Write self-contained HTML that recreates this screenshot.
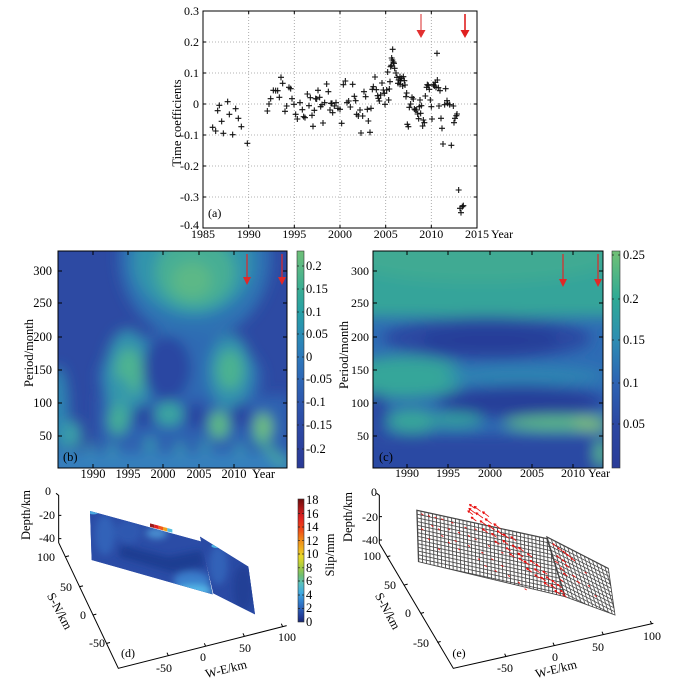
<!DOCTYPE html>
<html><head><meta charset="utf-8">
<style>
html,body{margin:0;padding:0;background:#fff;}
svg{display:block;}
svg text{font-family:"Liberation Serif","DejaVu Serif",serif;fill:#000;}
</style></head><body>
<svg width="684" height="689" viewBox="0 0 684 689" xmlns="http://www.w3.org/2000/svg" font-family="'Liberation Serif', 'DejaVu Serif', serif">
<defs>
 <path id="pp" d="M-9,0H9M0,-9V9" stroke="#111" stroke-width="3.2" fill="none"/>
 <clipPath id="cb"><rect x="58" y="251" width="229" height="217"/></clipPath>
 <clipPath id="cc"><rect x="373" y="251" width="230" height="217"/></clipPath>
 <filter id="bl" filterUnits="userSpaceOnUse" x="0" y="180" width="684" height="340"><feGaussianBlur stdDeviation="6.5"/></filter>
 <filter id="bl2" filterUnits="userSpaceOnUse" x="0" y="180" width="684" height="340"><feGaussianBlur stdDeviation="7"/></filter>
 <filter id="bld" filterUnits="userSpaceOnUse" x="-100" y="-100" width="800" height="600"><feGaussianBlur stdDeviation="10"/></filter>
 <clipPath id="dL"><polygon points="15,48 350,140 383,298 20,195"/></clipPath>
 <clipPath id="dR"><polygon points="345,125 490,215 510,358 385,295"/></clipPath>
 <linearGradient id="gb" x1="0" y1="0" x2="0" y2="1">
  <stop offset="0" stop-color="#6dbf77"/>
  <stop offset="0.07" stop-color="#5cb984"/>
  <stop offset="0.175" stop-color="#3aad93"/>
  <stop offset="0.28" stop-color="#27a0a5"/>
  <stop offset="0.385" stop-color="#2a8cb5"/>
  <stop offset="0.49" stop-color="#2d78bb"/>
  <stop offset="0.595" stop-color="#2d66b5"/>
  <stop offset="0.70" stop-color="#2d56ad"/>
  <stop offset="0.80" stop-color="#2c4aa5"/>
  <stop offset="0.91" stop-color="#2b409c"/>
  <stop offset="1" stop-color="#2a3a96"/>
 </linearGradient>
 <linearGradient id="gc" x1="0" y1="0" x2="0" y2="1">
  <stop offset="0" stop-color="#70c076"/>
  <stop offset="0.02" stop-color="#6cbf78"/>
  <stop offset="0.22" stop-color="#2eaa95"/>
  <stop offset="0.41" stop-color="#2d8db3"/>
  <stop offset="0.61" stop-color="#2d62b3"/>
  <stop offset="0.80" stop-color="#2b47a2"/>
  <stop offset="1" stop-color="#2a3c98"/>
 </linearGradient>
 <linearGradient id="gd" x1="0" y1="0" x2="0" y2="1">
  <stop offset="0" stop-color="#6e0c0c"/>
  <stop offset="0.08" stop-color="#b01818"/>
  <stop offset="0.15" stop-color="#e02020"/>
  <stop offset="0.25" stop-color="#f04a18"/>
  <stop offset="0.33" stop-color="#f08818"/>
  <stop offset="0.40" stop-color="#f0b020"/>
  <stop offset="0.47" stop-color="#e8d828"/>
  <stop offset="0.55" stop-color="#a8cc40"/>
  <stop offset="0.62" stop-color="#70bf70"/>
  <stop offset="0.69" stop-color="#58c0c0"/>
  <stop offset="0.76" stop-color="#40aae0"/>
  <stop offset="0.83" stop-color="#3282d0"/>
  <stop offset="0.90" stop-color="#2a5ab2"/>
  <stop offset="0.96" stop-color="#213a96"/>
  <stop offset="1" stop-color="#1a2870"/>
 </linearGradient>
 <pattern id="gridL" patternUnits="userSpaceOnUse" width="10" height="10" patternTransform="matrix(1.147,0.25,0.0357,1.107,20,30)">
  <rect width="10" height="10" fill="#fff"/>
  <rect width="10" height="2.4" fill="#4a4a4a"/>
  <rect width="2.4" height="10" fill="#4a4a4a"/>
 </pattern>
 <pattern id="gridR" patternUnits="userSpaceOnUse" width="10" height="10" patternTransform="matrix(1.233,0.633,0.393,1.286,410,110)">
  <rect width="10" height="10" fill="#fff"/>
  <rect width="10" height="2.4" fill="#4a4a4a"/>
  <rect width="2.4" height="10" fill="#4a4a4a"/>
 </pattern>
</defs>
<rect width="684" height="689" fill="#fff"/>

<!-- ================= Panel (a) ================= -->
<g stroke="#9a9a9a" stroke-width="0.8" stroke-dasharray="1,2" fill="none">
 <path d="M248.7,11V228M294.3,11V228M340,11V228M385.7,11V228M431.3,11V228"/>
 <path d="M203,42H477M203,73H477M203,104H477M203,135H477M203,166H477M203,197H477"/>
</g>
<rect x="203" y="11" width="274" height="217" fill="none" stroke="#000" stroke-width="1"/>
<g stroke="#000" stroke-width="1">
 <path d="M248.7,228v-3M294.3,228v-3M340,228v-3M385.7,228v-3M431.3,228v-3M248.7,11v3M294.3,11v3M340,11v3M385.7,11v3M431.3,11v3"/>
 <path d="M203,42h3M203,73h3M203,104h3M203,135h3M203,166h3M203,197h3M477,42h-3M477,73h-3M477,104h-3M477,135h-3M477,166h-3M477,197h-3"/>
</g>
<g font-size="12" text-anchor="end">
 <text x="199" y="15">0.3</text>
 <text x="199" y="46">0.2</text>
 <text x="199" y="77">0.1</text>
 <text x="199" y="108">0</text>
 <text x="199" y="139">-0.1</text>
 <text x="199" y="170">-0.2</text>
 <text x="199" y="201">-0.3</text>
 <text x="199" y="229">-0.4</text>
</g>
<g font-size="12" text-anchor="middle">
 <text x="203" y="238">1985</text>
 <text x="248.7" y="238">1990</text>
 <text x="294.3" y="238">1995</text>
 <text x="340" y="238">2000</text>
 <text x="385.7" y="238">2005</text>
 <text x="431.3" y="238">2010</text>
 <text x="477" y="238">2015</text>
</g>
<text x="491" y="238" font-size="12">Year</text>
<text transform="translate(181,123) rotate(-90)" font-size="12.5" text-anchor="middle">Time coefficients</text>
<text x="208" y="217" font-size="12">(a)</text>
<!-- arrows a -->
<line x1="421" y1="14" x2="421" y2="31" stroke="#e87a7a" stroke-width="1.6"/>
<polygon points="416.5,30 425.5,30 421,38" fill="#e23030"/>
<line x1="465" y1="14" x2="465" y2="31" stroke="#e02020" stroke-width="1.6"/>
<polygon points="460.5,30 469.5,30 465,38" fill="#e02020"/>
<!-- points -->
<g transform="translate(150,0) scale(0.33333)">
<use href="#pp" x="188" y="382"/><use href="#pp" x="197" y="393"/><use href="#pp" x="208" y="316"/><use href="#pp" x="203" y="332"/><use href="#pp" x="215" y="364"/><use href="#pp" x="220" y="400"/><use href="#pp" x="233" y="305"/><use href="#pp" x="238" y="343"/><use href="#pp" x="248" y="404"/><use href="#pp" x="257" y="326"/><use href="#pp" x="265" y="355"/><use href="#pp" x="274" y="380"/><use href="#pp" x="292" y="430"/>
<use href="#pp" x="352" y="333"/><use href="#pp" x="357" y="312"/><use href="#pp" x="362" y="296"/><use href="#pp" x="370" y="271"/><use href="#pp" x="377" y="272"/><use href="#pp" x="383" y="272"/><use href="#pp" x="388" y="292"/><use href="#pp" x="393" y="232"/><use href="#pp" x="398" y="250"/><use href="#pp" x="405" y="334"/><use href="#pp" x="410" y="318"/><use href="#pp" x="417" y="262"/><use href="#pp" x="422" y="266"/><use href="#pp" x="426" y="296"/><use href="#pp" x="432" y="313"/><use href="#pp" x="437" y="343"/><use href="#pp" x="442" y="357"/><use href="#pp" x="450" y="308"/><use href="#pp" x="457" y="329"/><use href="#pp" x="461" y="350"/><use href="#pp" x="465" y="353"/><use href="#pp" x="472" y="282"/><use href="#pp" x="477" y="317"/><use href="#pp" x="481" y="293"/><use href="#pp" x="486" y="346"/><use href="#pp" x="489" y="379"/><use href="#pp" x="493" y="331"/><use href="#pp" x="497" y="296"/><use href="#pp" x="500" y="297"/><use href="#pp" x="504" y="271"/><use href="#pp" x="509" y="292"/><use href="#pp" x="512" y="320"/><use href="#pp" x="516" y="314"/><use href="#pp" x="519" y="369"/><use href="#pp" x="524" y="308"/><use href="#pp" x="530" y="252"/><use href="#pp" x="535" y="275"/><use href="#pp" x="540" y="330"/><use href="#pp" x="543" y="310"/><use href="#pp" x="546" y="310"/><use href="#pp" x="548" y="338"/><use href="#pp" x="553" y="318"/><use href="#pp" x="558" y="308"/><use href="#pp" x="564" y="325"/><use href="#pp" x="570" y="328"/><use href="#pp" x="575" y="370"/><use href="#pp" x="580" y="254"/><use href="#pp" x="586" y="243"/><use href="#pp" x="591" y="308"/><use href="#pp" x="596" y="303"/><use href="#pp" x="601" y="321"/><use href="#pp" x="608" y="253"/><use href="#pp" x="613" y="289"/><use href="#pp" x="617" y="302"/><use href="#pp" x="620" y="343"/><use href="#pp" x="625" y="348"/><use href="#pp" x="630" y="330"/><use href="#pp" x="633" y="399"/><use href="#pp" x="638" y="348"/><use href="#pp" x="642" y="275"/><use href="#pp" x="647" y="290"/><use href="#pp" x="652" y="328"/><use href="#pp" x="655" y="363"/><use href="#pp" x="660" y="397"/><use href="#pp" x="663" y="325"/><use href="#pp" x="667" y="268"/><use href="#pp" x="670" y="260"/><use href="#pp" x="675" y="231"/><use href="#pp" x="679" y="269"/><use href="#pp" x="683" y="287"/><use href="#pp" x="685" y="295"/><use href="#pp" x="688" y="303"/><use href="#pp" x="692" y="285"/><use href="#pp" x="696" y="249"/><use href="#pp" x="700" y="270"/><use href="#pp" x="703" y="280"/><use href="#pp" x="705" y="313"/><use href="#pp" x="710" y="270"/><use href="#pp" x="713" y="216"/><use href="#pp" x="716" y="300"/><use href="#pp" x="718" y="267"/><use href="#pp" x="720" y="245"/><use href="#pp" x="727" y="180"/><use href="#pp" x="722" y="200"/><use href="#pp" x="730" y="186"/><use href="#pp" x="725" y="174"/><use href="#pp" x="732" y="190"/><use href="#pp" x="724" y="196"/><use href="#pp" x="728" y="148"/><use href="#pp" x="734" y="205"/><use href="#pp" x="738" y="219"/><use href="#pp" x="741" y="232"/><use href="#pp" x="744" y="250"/><use href="#pp" x="746" y="240"/><use href="#pp" x="750" y="253"/><use href="#pp" x="752" y="242"/><use href="#pp" x="755" y="235"/><use href="#pp" x="750" y="230"/><use href="#pp" x="758" y="258"/><use href="#pp" x="760" y="230"/><use href="#pp" x="763" y="242"/><use href="#pp" x="765" y="255"/><use href="#pp" x="768" y="290"/><use href="#pp" x="770" y="279"/><use href="#pp" x="772" y="373"/><use href="#pp" x="775" y="380"/><use href="#pp" x="778" y="322"/><use href="#pp" x="782" y="312"/><use href="#pp" x="786" y="292"/><use href="#pp" x="790" y="297"/><use href="#pp" x="793" y="327"/><use href="#pp" x="796" y="330"/><use href="#pp" x="800" y="330"/><use href="#pp" x="803" y="342"/><use href="#pp" x="806" y="356"/><use href="#pp" x="808" y="320"/><use href="#pp" x="810" y="300"/><use href="#pp" x="812" y="340"/><use href="#pp" x="814" y="317"/><use href="#pp" x="818" y="378"/><use href="#pp" x="820" y="360"/><use href="#pp" x="823" y="368"/><use href="#pp" x="826" y="288"/><use href="#pp" x="830" y="262"/><use href="#pp" x="832" y="254"/><use href="#pp" x="835" y="256"/><use href="#pp" x="838" y="268"/><use href="#pp" x="841" y="300"/><use href="#pp" x="844" y="320"/><use href="#pp" x="846" y="357"/><use href="#pp" x="850" y="254"/><use href="#pp" x="853" y="258"/><use href="#pp" x="856" y="247"/><use href="#pp" x="858" y="262"/><use href="#pp" x="861" y="160"/><use href="#pp" x="862" y="240"/><use href="#pp" x="865" y="263"/><use href="#pp" x="867" y="318"/><use href="#pp" x="870" y="272"/><use href="#pp" x="873" y="355"/><use href="#pp" x="876" y="385"/><use href="#pp" x="879" y="432"/><use href="#pp" x="884" y="314"/><use href="#pp" x="887" y="266"/><use href="#pp" x="891" y="302"/><use href="#pp" x="893" y="310"/><use href="#pp" x="899" y="314"/><use href="#pp" x="904" y="436"/><use href="#pp" x="910" y="318"/><use href="#pp" x="912" y="368"/><use href="#pp" x="915" y="355"/><use href="#pp" x="919" y="347"/><use href="#pp" x="921" y="342"/><use href="#pp" x="926" y="570"/><use href="#pp" x="933" y="638"/><use href="#pp" x="937" y="620"/><use href="#pp" x="940" y="617"/><use href="#pp" x="930" y="625"/>
</g>

<!-- ================= Panel (b) ================= -->
<g clip-path="url(#cb)">
 <rect x="58" y="251" width="229" height="217" fill="#2d4aa3"/>
 <g filter="url(#bl)">
  <ellipse cx="195" cy="258" rx="76" ry="82" fill="#2e72b3"/>
  <ellipse cx="193" cy="262" rx="60" ry="54" fill="#3094ac"/>
  <ellipse cx="195" cy="272" rx="40" ry="36" fill="#46ae94"/>
  <ellipse cx="192" cy="280" rx="20" ry="18" fill="#5cb887"/>
  <ellipse cx="180" cy="378" rx="82" ry="46" fill="#2e6ab3"/>
  <rect x="98" y="395" width="192" height="55" fill="#2e62b1"/>
  <ellipse cx="128" cy="375" rx="24" ry="46" fill="#3190ae"/>
  <ellipse cx="129" cy="372" rx="14" ry="24" fill="#4db391"/>
  <ellipse cx="230" cy="372" rx="22" ry="38" fill="#3190ae"/>
  <ellipse cx="230" cy="370" rx="13" ry="20" fill="#4cb290"/>
  <ellipse cx="167" cy="368" rx="24" ry="32" fill="#2c47a2"/>
  <ellipse cx="121" cy="402" rx="11" ry="25" fill="#3498aa"/>
  <ellipse cx="143" cy="416" rx="11" ry="11" fill="#2b45a1"/>
  <ellipse cx="196" cy="416" rx="11" ry="13" fill="#2b45a1"/>
  <ellipse cx="241" cy="416" rx="10" ry="13" fill="#2b45a1"/>
  <ellipse cx="118" cy="420" rx="10" ry="15" fill="#45ae96"/>
  <ellipse cx="169" cy="414" rx="14" ry="12" fill="#3aa6a0"/>
  <ellipse cx="219" cy="425" rx="10" ry="14" fill="#5fba84"/>
  <ellipse cx="263" cy="427" rx="9" ry="14" fill="#70bf7e"/>
  <ellipse cx="58" cy="410" rx="11" ry="44" fill="#2f86b2"/>
  <ellipse cx="72" cy="435" rx="10" ry="15" fill="#3a9ea8"/>
  <rect x="50" y="452" width="245" height="25" fill="#3580bd"/>
  <ellipse cx="90" cy="449" rx="4" ry="7" fill="#3a9eb0"/>
  <ellipse cx="112" cy="450" rx="4" ry="7" fill="#3a9eb0"/>
  <ellipse cx="150" cy="445" rx="5" ry="8" fill="#3a9eb0"/>
  <ellipse cx="180" cy="449" rx="4" ry="7" fill="#3a9eb0"/>
  <ellipse cx="205" cy="447" rx="4" ry="7" fill="#3a9eb0"/>
  <ellipse cx="240" cy="450" rx="4" ry="7" fill="#3a9eb0"/>
  <line x1="255" y1="435" x2="285" y2="466" stroke="#4fb590" stroke-width="6"/>
 </g>
</g>
<rect x="58" y="251" width="229" height="217" fill="none" stroke="#000" stroke-width="1"/>
<g stroke="#000" stroke-width="1">
 <path d="M58,271h4M58,303h4M58,337h4M58,370h4M58,403h4M58,436h4M287,271h-4M287,303h-4M287,337h-4M287,370h-4M287,403h-4M287,436h-4"/>
 <path d="M93,468v-4M128,468v-4M163,468v-4M199,468v-4M234,468v-4M93,251v4M128,251v4M163,251v4M199,251v4M234,251v4"/>
</g>
<g font-size="12.5" text-anchor="end">
 <text x="52" y="275">300</text>
 <text x="52" y="307">250</text>
 <text x="52" y="341">200</text>
 <text x="52" y="374">150</text>
 <text x="52" y="407">100</text>
 <text x="52" y="440">50</text>
</g>
<g font-size="12.5" text-anchor="middle">
 <text x="93" y="478">1990</text>
 <text x="128" y="478">1995</text>
 <text x="163" y="478">2000</text>
 <text x="199" y="478">2005</text>
 <text x="234" y="478">2010</text>
</g>
<text x="252" y="478" font-size="12.5">Year</text>
<text transform="translate(33,353) rotate(-90)" font-size="12.5" text-anchor="middle">Period/month</text>
<text x="63" y="461" font-size="12.5">(b)</text>
<line x1="247" y1="254" x2="247" y2="279" stroke="#e02828" stroke-width="1.2"/>
<polygon points="243,277 251,277 247,285" fill="#e02828"/>
<line x1="282" y1="254" x2="282" y2="279" stroke="#e02828" stroke-width="1.2"/>
<polygon points="278,277 286,277 282,285" fill="#e02828"/>
<!-- colorbar b -->
<rect x="297" y="251" width="7" height="217" fill="url(#gb)" stroke="#333" stroke-width="0.6"/>
<g stroke="#222" stroke-width="0.8">
 <path d="M297,266h2M297,289h2M297,312h2M297,334h2M297,357h2M297,379h2M297,402h2M297,425h2M297,449h2M304,266h-2M304,289h-2M304,312h-2M304,334h-2M304,357h-2M304,379h-2M304,402h-2M304,425h-2M304,449h-2"/>
</g>
<g font-size="12.5">
 <text x="306" y="270">0.2</text>
 <text x="306" y="293">0.15</text>
 <text x="306" y="316">0.1</text>
 <text x="306" y="338">0.05</text>
 <text x="306" y="361">0</text>
 <text x="306" y="383">-0.05</text>
 <text x="306" y="406">-0.1</text>
 <text x="306" y="429">-0.15</text>
 <text x="306" y="453">-0.2</text>
</g>

<!-- ================= Panel (c) ================= -->
<g clip-path="url(#cc)">
 <rect x="373" y="251" width="230" height="217" fill="#2e6cb4"/>
 <g filter="url(#bl2)">
  <rect x="355" y="225" width="270" height="92" fill="#34a49a"/>
  <ellipse cx="480" cy="258" rx="130" ry="24" fill="#40aa93"/>
  <ellipse cx="487" cy="338" rx="104" ry="22" fill="#2b48a2"/>
  <ellipse cx="490" cy="340" rx="70" ry="13" fill="#283e98"/>
  <ellipse cx="405" cy="377" rx="62" ry="21" fill="#36a69a"/>
  <ellipse cx="525" cy="376" rx="80" ry="10" fill="#2f85b2"/>
  <ellipse cx="522" cy="402" rx="88" ry="18" fill="#2b4ca4"/>
  <ellipse cx="522" cy="402" rx="76" ry="12" fill="#283e98"/>
  <ellipse cx="376" cy="414" rx="14" ry="22" fill="#2b4aa3"/>
  <ellipse cx="412" cy="421" rx="25" ry="12" fill="#37a69a"/>
  <ellipse cx="455" cy="420" rx="28" ry="7" fill="#35a39b"/>
  <rect x="355" y="434" width="270" height="50" fill="#2b4aa3"/>
  <ellipse cx="556" cy="423" rx="52" ry="7" fill="#60be83"/>
  <ellipse cx="590" cy="424" rx="17" ry="6" fill="#8ccd70"/>
  <ellipse cx="601" cy="453" rx="6" ry="14" fill="#5bbd88"/>
 </g>
</g>
<rect x="373" y="251" width="230" height="217" fill="none" stroke="#000" stroke-width="1"/>
<g stroke="#000" stroke-width="1">
 <path d="M373,271h4M373,303h4M373,337h4M373,370h4M373,403h4M373,436h4M603,271h-4M603,303h-4M603,337h-4M603,370h-4M603,403h-4M603,436h-4"/>
 <path d="M407,468v-4M448,468v-4M490,468v-4M532,468v-4M573,468v-4M407,251v4M448,251v4M490,251v4M532,251v4M573,251v4"/>
</g>
<g font-size="12" text-anchor="end">
 <text x="369" y="275">300</text>
 <text x="369" y="307">250</text>
 <text x="369" y="341">200</text>
 <text x="369" y="374">150</text>
 <text x="369" y="407">100</text>
 <text x="369" y="440">50</text>
</g>
<g font-size="12" text-anchor="middle">
 <text x="407" y="477">1990</text>
 <text x="448" y="477">1995</text>
 <text x="490" y="477">2000</text>
 <text x="532" y="477">2005</text>
 <text x="573" y="477">2010</text>
</g>
<text x="588" y="477" font-size="12">Year</text>
<text transform="translate(348,355) rotate(-90)" font-size="12.5" text-anchor="middle">Period/month</text>
<text x="379" y="461" font-size="12.5">(c)</text>
<line x1="563" y1="254" x2="563" y2="279" stroke="#e02828" stroke-width="1.2"/>
<polygon points="559,279 567,279 563,287" fill="#e02828"/>
<line x1="598" y1="254" x2="598" y2="279" stroke="#e02828" stroke-width="1.2"/>
<polygon points="594,279 602,279 598,287" fill="#e02828"/>
<!-- colorbar c -->
<rect x="612" y="251" width="8" height="217" fill="url(#gc)" stroke="#333" stroke-width="0.6"/>
<g stroke="#222" stroke-width="0.8">
 <path d="M612,255h2M612,299h2M612,340h2M612,383h2M612,424h2M620,255h-2M620,299h-2M620,340h-2M620,383h-2M620,424h-2"/>
</g>
<g font-size="12.5">
 <text x="623" y="259">0.25</text>
 <text x="623" y="303">0.2</text>
 <text x="623" y="344">0.15</text>
 <text x="623" y="387">0.1</text>
 <text x="623" y="428">0.05</text>
</g>

<!-- ================= Panel (d) ================= -->
<g transform="translate(0,480) scale(0.33333)" stroke="#000" stroke-width="3" fill="none">
 <path d="M168,40 L176,46 V188 L355,565 L860,437"/>
 <path d="M176,106h8M176,176h8"/>
 <path d="M197,230l10,-2.5M239,320l10,-2.5M279,405l10,-2.5M320,490l10,-2.5"/>
 <path d="M505,527l-4,-9M617,499l-4,-9M733,469l-4,-9M848,440l-4,-9"/>
</g>
<g transform="translate(85,495) scale(0.33333)">
 <polygon points="15,48 350,140 383,298 20,195" fill="#2a4aa4"/>
 <polygon points="345,125 490,215 510,358 385,295" fill="#2a4aa4"/>
 <g clip-path="url(#dL)">
  <rect x="0" y="30" width="400" height="290" fill="#2b4ca6"/>
  <g filter="url(#bld)">
   <ellipse cx="60" cy="120" rx="30" ry="60" fill="#3262b8"/>
   <ellipse cx="130" cy="110" rx="40" ry="35" fill="#2f58b0"/>
   <ellipse cx="215" cy="115" rx="32" ry="16" fill="#4a8fd0"/>
   <polygon points="110,150 250,185 350,165 360,215 260,232 100,185" fill="#1f3d92"/>
   <ellipse cx="320" cy="258" rx="55" ry="28" fill="#3a7fcc"/>
   <ellipse cx="328" cy="288" rx="55" ry="18" fill="#55b8e8"/>
  </g>
  <ellipse cx="25" cy="52" rx="16" ry="6" fill="#4aa8e0"/>
 </g>
 <g clip-path="url(#dR)">
  <rect x="330" y="110" width="200" height="260" fill="#2a4aa4"/>
  <g filter="url(#bld)">
   <ellipse cx="400" cy="210" rx="28" ry="60" fill="#3262b8"/>
   <ellipse cx="475" cy="280" rx="30" ry="70" fill="#223f96"/>
  </g>
  <ellipse cx="395" cy="153" rx="16" ry="6" fill="#4ab0e0"/>
 </g>
 <polygon points="195,85 208,88.5 208,99 195,95.5" fill="#9b1a1a"/>
 <polygon points="208,88.5 221,92 221,102.5 208,99" fill="#e02020"/>
 <polygon points="221,92 234,95.5 234,106 221,102.5" fill="#f05a1a"/>
 <polygon points="234,95.5 247,99 247,109.5 234,106" fill="#f0a020"/>
 <polygon points="247,99 262,103 262,113 247,109.5" fill="#56c0e0"/>
</g>
<!-- colorbar d -->
<rect x="298" y="499" width="6" height="123" fill="url(#gd)" stroke="#333" stroke-width="0.6"/>
<g stroke="#222" stroke-width="0.7">
 <path d="M298,513.6h2M298,527h2M298,540.7h2M298,554h2M298,567.8h2M298,581h2M298,595h2M298,608.5h2M304,513.6h-2M304,527h-2M304,540.7h-2M304,554h-2M304,567.8h-2M304,581h-2M304,595h-2M304,608.5h-2"/>
</g>
<g font-size="12.5">
 <text x="306" y="504">18</text>
 <text x="306" y="518">16</text>
 <text x="306" y="531">14</text>
 <text x="306" y="545">12</text>
 <text x="306" y="558">10</text>
 <text x="306" y="572">8</text>
 <text x="306" y="585">6</text>
 <text x="306" y="599">4</text>
 <text x="306" y="612">2</text>
 <text x="306" y="626">0</text>
</g>
<text transform="translate(334,555) rotate(-90)" font-size="12.5" text-anchor="middle">Slip/mm</text>
<g font-size="12">
 <text x="51" y="495" text-anchor="end">0</text>
 <text x="55" y="519" text-anchor="end">-20</text>
 <text x="55" y="542" text-anchor="end">-40</text>
 <text x="55" y="561" text-anchor="end">100</text>
 <text x="72" y="591" text-anchor="end">50</text>
 <text x="86" y="619" text-anchor="end">0</text>
 <text x="105" y="647" text-anchor="end">-50</text>
 <text x="164" y="672" text-anchor="middle">-50</text>
 <text x="203" y="661" text-anchor="middle">0</text>
 <text x="245" y="652" text-anchor="middle">50</text>
 <text x="287" y="641" text-anchor="middle">100</text>
 <text x="128" y="657" text-anchor="middle">(d)</text>
</g>
<text transform="translate(30,515) rotate(-90)" font-size="12.5" text-anchor="middle">Depth/km</text>
<text transform="translate(56,613) rotate(62)" font-size="12.5" text-anchor="middle">S-N/km</text>
<text transform="translate(227,673) rotate(-14)" font-size="12.5" text-anchor="middle">W-E/km</text>

<!-- ================= Panel (e) ================= -->
<g transform="translate(340,480) scale(0.33333)" stroke="#000" stroke-width="3" fill="none">
 <path d="M110,40 L118,46 V190 L340,565 L940,430"/>
 <path d="M118,110h8M118,180h8"/>
 <path d="M141,230l10,-2.5M193,315l10,-2.5M242,400l10,-2.5M292,487l10,-2.5"/>
 <path d="M498,530l-4,-9M643,497l-4,-9M790,464l-4,-9M935,432l-4,-9"/>
</g>
<g transform="translate(410,500) scale(0.33333)">
 <polygon points="20,30 410,115 465,290 25,185" fill="url(#gridL)" stroke="#444" stroke-width="2.5"/>
 <polygon points="410,110 595,205 615,345 465,290" fill="url(#gridR)" stroke="#444" stroke-width="2.5"/>
 <path fill="none" stroke="#e81010" stroke-width="2.6" d="
 M196,40l-20,-15l8,1.5m-8,-1.5l4,7
 M194,25l-16,-12l7,1.4m-7,-1.4l3.3,6.2
 M189,44l-16,-12l7,1.4m-7,-1.4l3.3,6.2
 M212,34l-20,-15l8,1.5m-8,-1.5l4,7
 M199,63l-16,-12l7,1.4m-7,-1.4l3.3,6.2
 M219,54l-22,-16l8,1.5m-8,-1.5l4,7
 M237,50l-20,-15l8,1.5m-8,-1.5l4,7
 M228,75l-18,-13l7,1.4m-7,-1.4l3.3,6.2
 M245,71l-20,-15l8,1.5m-8,-1.5l4,7
 M233,98l-16,-12l7,1.4m-7,-1.4l3.3,6.2
 M254,90l-20,-15l8,1.5m-8,-1.5l4,7
 M271,86l-20,-15l8,1.5m-8,-1.5l4,7
 M260,112l-16,-12l7,1.4m-7,-1.4l3.3,6.2
 M279,105l-18,-13l7,1.4m-7,-1.4l3.3,6.2
 M268,133l-14,-10l6,1.2m-6,-1.2l3,5
 M297,115l-18,-13l7,1.4m-7,-1.4l3.3,6.2
 M294,133l-16,-12l7,1.4m-7,-1.4l3.3,6.2
 M318,122l-16,-12l7,1.4m-7,-1.4l3.3,6.2
 M302,153l-14,-10l6,1.2m-6,-1.2l3,5
 M322,147l-16,-12l7,1.4m-7,-1.4l3.3,6.2
 M313,171l-14,-10l6,1.2m-6,-1.2l3,5
 M341,154l-16,-12l7,1.4m-7,-1.4l3.3,6.2
 M339,171l-16,-12l7,1.4m-7,-1.4l3.3,6.2
 M340,184l-14,-10l6,1.2m-6,-1.2l3,5
 M366,171l-14,-10l6,1.2m-6,-1.2l3,5
 M358,195l-16,-12l7,1.4m-7,-1.4l3.3,6.2
 M374,191l-14,-10l6,1.2m-6,-1.2l3,5
 M365,216l-16,-12l7,1.4m-7,-1.4l3.3,6.2
 M391,202l-14,-10l6,1.2m-6,-1.2l3,5
 M389,218l-16,-12l7,1.4m-7,-1.4l3.3,6.2
 M388,234l-14,-10l6,1.2m-6,-1.2l3,5
 M412,223l-14,-10l6,1.2m-6,-1.2l3,5
 M407,243l-16,-12l7,1.4m-7,-1.4l3.3,6.2
 M422,240l-14,-10l6,1.2m-6,-1.2l3,5
 M418,259l-16,-12l7,1.4m-7,-1.4l3.3,6.2
 M439,251l-14,-10l6,1.2m-6,-1.2l3,5
 M438,266l-16,-12l7,1.4m-7,-1.4l3.3,6.2
 M455,263l-14,-10l6,1.2m-6,-1.2l3,5
 M450,283l-16,-12l7,1.4m-7,-1.4l3.3,6.2
 M465,281l-14,-10l6,1.2m-6,-1.2l3,5
 M470,292l-12,-9l5,1m-5,-1l2.5,4.5
 M440,140l-12,-9l5,1m-5,-1l2.5,4.5
 M455,152l-12,-9l5,1m-5,-1l2.5,4.5
 M470,162l-12,-9l5,1m-5,-1l2.5,4.5
 M482,172l-12,-9l5,1m-5,-1l2.5,4.5
 M495,183l-12,-9l5,1m-5,-1l2.5,4.5
 M452,176l-12,-9l5,1m-5,-1l2.5,4.5
 M468,188l-12,-9l5,1m-5,-1l2.5,4.5
 M478,203l-12,-9l5,1m-5,-1l2.5,4.5
 M462,212l-12,-9l5,1m-5,-1l2.5,4.5
 M472,228l-12,-9l5,1m-5,-1l2.5,4.5
 M497,232l-10,-7M510,250l-10,-7M445,190l-10,-7M460,245l-10,-7
 M40,45l-6,-4M60,50l-6,-4M80,55l-6,-4M100,60l-6,-4M70,80l-6,-4M90,90l-6,-4M130,70l-6,-4M150,100l-6,-4M170,85l-6,-4M200,120l-6,-4M150,150l-6,-4M100,110l-6,-4M60,120l-6,-4M140,125l-6,-4M180,140l-6,-4M220,160l-6,-4M250,180l-6,-4M280,200l-6,-4M230,200l-6,-4M260,215l-6,-4M120,90l-6,-4M40,90l-6,-4M200,90l-6,-4M180,110l-6,-4M540,260l-6,-4M560,290l-6,-4M530,220l-6,-4
 M120,130l-6,-4M90,150l-6,-4M210,180l-6,-4M300,230l-6,-4M330,250l-6,-4M350,270l-6,-4M280,160l-6,-4M240,140l-6,-4"/>
</g>
<g font-size="12">
 <text x="377" y="496" text-anchor="end">0</text>
 <text x="378" y="521" text-anchor="end">-20</text>
 <text x="378" y="544" text-anchor="end">-40</text>
 <text x="381" y="560" text-anchor="end">100</text>
 <text x="396" y="589" text-anchor="end">50</text>
 <text x="408" y="617" text-anchor="middle">0</text>
 <text x="429" y="647" text-anchor="end">-50</text>
 <text x="505" y="672" text-anchor="middle">-50</text>
 <text x="555" y="661" text-anchor="middle">0</text>
 <text x="598" y="651" text-anchor="middle">50</text>
 <text x="652" y="640" text-anchor="middle">100</text>
 <text x="459" y="657" text-anchor="middle">(e)</text>
</g>
<text transform="translate(352,517) rotate(-90)" font-size="12.5" text-anchor="middle">Depth/km</text>
<text transform="translate(384,613) rotate(62)" font-size="12.5" text-anchor="middle">S-N/km</text>
<text transform="translate(557,673) rotate(-14)" font-size="12.5" text-anchor="middle">W-E/km</text>
</svg>
</body></html>
